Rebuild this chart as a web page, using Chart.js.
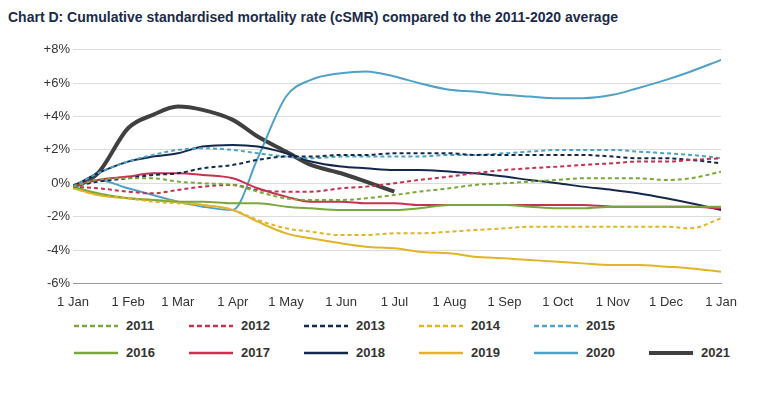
<!DOCTYPE html>
<html><head><meta charset="utf-8">
<script src="https://cdn.jsdelivr.net/npm/chart.js@4/dist/chart.umd.min.js"></script>
<style>
body{margin:0;background:#fff;font-family:Arial,"Liberation Sans",sans-serif;}
#title{position:absolute;left:8px;top:9px;font-size:14px;font-weight:bold;color:#1b2a4a;}
#wrap{position:absolute;left:0;top:39px;width:740px;height:274px;}
#legend{position:absolute;left:74px;top:318px;width:700px;display:grid;grid-template-columns:repeat(6,115px);row-gap:12px;font-size:13px;font-weight:bold;color:#333;}
.item{display:flex;align-items:center;}
.item svg{margin-right:8px;}
</style></head><body>
<div id="title">Chart D: Cumulative standardised mortality rate (cSMR) compared to the 2011-2020 average</div>
<div id="wrap"><canvas id="c"></canvas></div>
<div id="legend"></div>
<script>
// day of year: 1st and 15th of each month
const days = [0,14,31,45,59,73,90,104,120,134,151,165,181,195,212,226,243,257,273,287,304,318,334,348,365];
const monthTicks = [0,31,59,90,120,151,181,212,243,273,304,334,365];
const monthLabels = ['1 Jan','1 Feb','1 Mar','1 Apr','1 May','1 Jun','1 Jul','1 Aug','1 Sep','1 Oct','1 Nov','1 Dec','1 Jan'];

const y2011 = [-0.2,0.2,0.3,0.3,0.1,0,-0.1,-0.5,-0.9,-1.0,-1.0,-0.9,-0.7,-0.5,-0.3,-0.1,0,0.1,0.2,0.3,0.3,0.3,0.2,0.3,0.7];
const y2012 = [-0.2,-0.3,-0.5,-0.6,-0.4,-0.2,-0.1,-0.4,-0.5,-0.5,-0.3,-0.2,0,0.2,0.4,0.6,0.8,0.9,1.0,1.1,1.2,1.3,1.3,1.4,1.5];
const y2013 = [-0.2,0.1,0.3,0.5,0.6,0.9,1.1,1.4,1.6,1.6,1.7,1.7,1.8,1.8,1.8,1.7,1.7,1.7,1.7,1.7,1.6,1.5,1.5,1.4,1.2];
const y2014 = [-0.3,-0.7,-0.9,-1.1,-1.2,-1.3,-1.6,-2.2,-2.7,-2.9,-3.1,-3.1,-3.0,-3.0,-2.9,-2.8,-2.7,-2.6,-2.6,-2.6,-2.6,-2.6,-2.6,-2.7,-2.1];
const y2015 = [-0.2,0.6,1.3,1.7,2.0,2.1,2.0,1.8,1.6,1.5,1.6,1.6,1.6,1.6,1.7,1.7,1.8,1.9,2.0,2.0,2.0,1.9,1.8,1.7,1.5];
const y2016 = [-0.2,-0.6,-0.9,-1.0,-1.1,-1.1,-1.2,-1.2,-1.4,-1.5,-1.6,-1.6,-1.6,-1.5,-1.3,-1.3,-1.3,-1.4,-1.5,-1.5,-1.4,-1.4,-1.4,-1.4,-1.4];
const y2017 = [-0.2,0.2,0.4,0.6,0.6,0.5,0.3,-0.3,-0.8,-1.1,-1.1,-1.2,-1.2,-1.3,-1.3,-1.3,-1.3,-1.3,-1.3,-1.3,-1.4,-1.4,-1.4,-1.4,-1.5];
const y2018 = [-0.2,0.6,1.3,1.6,1.8,2.2,2.3,2.2,1.8,1.3,1.0,0.9,0.8,0.8,0.7,0.6,0.4,0.2,0.0,-0.2,-0.4,-0.6,-0.9,-1.2,-1.6];
const y2019 = [-0.3,-0.7,-0.9,-1.0,-1.1,-1.3,-1.6,-2.3,-3.0,-3.3,-3.6,-3.8,-3.9,-4.1,-4.2,-4.4,-4.5,-4.6,-4.7,-4.8,-4.9,-4.9,-5.0,-5.1,-5.3];
const y2020 = [-0.3,0.2,-0.3,-0.7,-1.1,-1.4,-1.6,1.5,5.2,6.2,6.6,6.7,6.4,6.0,5.6,5.5,5.3,5.2,5.1,5.1,5.3,5.7,6.2,6.7,7.4];
const y2021 = [-0.2,0.6,3.3,4.1,4.6,4.4,3.8,2.8,1.9,1.1,0.6,0.1,-0.5];

const green='#7aa83a', red='#c8314f', navy='#14284f', gold='#e2b428', blue='#4fa1c8', grey='#404040';
const series = [
  ['2011',y2011,green,true],['2012',y2012,red,true],['2013',y2013,navy,true],['2014',y2014,gold,true],['2015',y2015,blue,true],null,
  ['2016',y2016,green,false],['2017',y2017,red,false],['2018',y2018,navy,false],['2019',y2019,gold,false],['2020',y2020,blue,false],
  ['2021',y2021,grey,false]
];
const datasets = series.filter(s=>s).map(([name,vals,col,dash]) => ({
  label:name,
  data:vals.map((v,i)=>({x:days[i],y:v})),
  borderColor:col, backgroundColor:col,
  borderWidth: name==='2021'?4:2,
  borderDash: dash?[4,3]:[],
  pointRadius:0, cubicInterpolationMode:'monotone', fill:false
}));

new Chart(document.getElementById('c'), {
  type:'line',
  data:{datasets},
  options:{
    responsive:true, maintainAspectRatio:false, animation:false,
    plugins:{legend:{display:false},tooltip:{enabled:false}},
    layout:{padding:{top:4,right:10}},
    scales:{
      x:{type:'linear',min:0,max:365,
        afterBuildTicks:ax=>{ax.ticks=monthTicks.map(v=>({value:v}));},
        ticks:{autoSkip:false,maxRotation:0,color:'#333',font:{size:13},callback:(v)=>monthLabels[monthTicks.indexOf(v)]},
        grid:{display:false},border:{color:'#999'}},
      y:{min:-6,max:8,
        afterFit:ax=>{ax.width=73;},
        ticks:{stepSize:2,color:'#333',font:{size:13},callback:v=>(v>0?'+':'')+v+'%'},
        grid:{color:'#dcdcdc',drawTicks:false},border:{display:false}}
    }
  }
});

const leg=document.getElementById('legend');
series.forEach(s=>{
  if(!s){leg.insertAdjacentHTML('beforeend','<div></div>');return;}
  const [name,vals,col,dash]=s;
  const w=name==='2021'?4:2.5;
  leg.insertAdjacentHTML('beforeend',
    `<div class="item"><svg width="44" height="8"><line x1="0" y1="4" x2="44" y2="4" stroke="${col}" stroke-width="${w}" ${dash?'stroke-dasharray="5,3"':''}/></svg>${name}</div>`);
});
</script>
</body></html>
